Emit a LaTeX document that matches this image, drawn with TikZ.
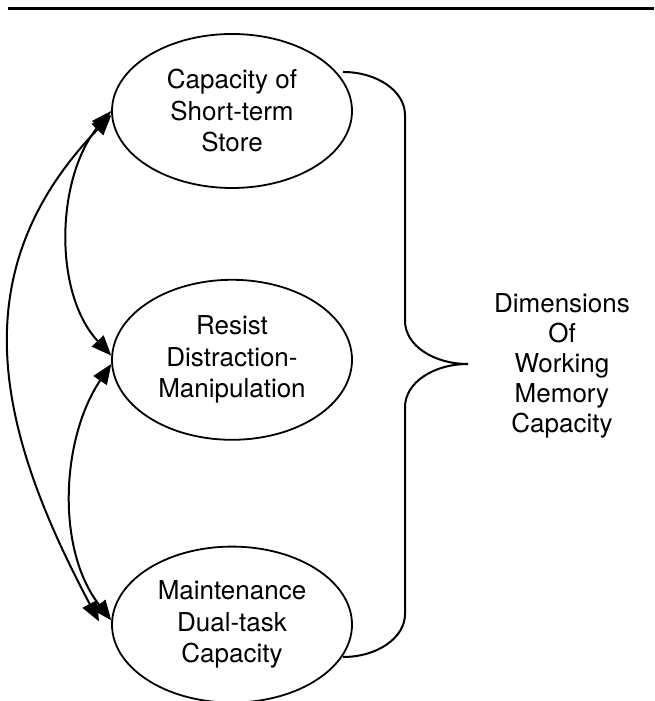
\documentclass[tikz,border=0pt]{standalone}
\usepackage{fontspec}
\setmainfont{TeX Gyre Heros}
\usetikzlibrary{shapes.geometric}
\usetikzlibrary{arrows.meta}
\usetikzlibrary{positioning}

\begin{document}
\begin{tikzpicture}
    [
    x=1pt,y=1pt,
    >={Triangle[length=20pt,width=16pt]},
    oval/.style = {ellipse,draw,line width=1.8pt,inner sep=0pt,minimum width=240pt,align=center,font=\fontsize{26}{31.5}\selectfont},
    link/.style = {<->,line width=2pt}
    ]
\useasboundingbox (0,0) rectangle (654,701);
\draw[line width=2.5pt] (8,692.5) -- (654,692.5);

\node[oval,minimum height=154pt] (cap) at (232,590) {Capacity of\\Short-term\\Store};
\node[oval,minimum height=160pt,below=90pt of cap] (res) {Resist\\Distraction-\\Manipulation};
\node[oval,minimum height=156pt,below=105pt of res] (mnt) {Maintenance\\Dual-task\\Capacity};

\node[align=center,font=\fontsize{26}{30}\selectfont] (dim) at (562,335) {Dimensions\\Of\\Working\\Memory\\Capacity};

\coordinate (outerend) at ([xshift=-12pt,yshift=3pt]mnt.west);
\draw[link] (cap.west) to[out=230,in=133,looseness=0.9] (res.178);
\draw[link] (res.182) to[out=236,in=128,looseness=0.9] (mnt.178);
\draw[link] (cap.182) to[out=226,in=118,looseness=1.1] (outerend);

% brace
\draw[line width=2pt] (343,629) .. controls (377,629) and (405,610) .. (405,586) -- (405,380)
  .. controls (405,356) and (433,337) .. (468,337) .. controls (433,337) and (405,318) .. (405,294)
  -- (405,87) .. controls (405,63) and (377,44) .. (343,44);
\end{tikzpicture}
\end{document}
